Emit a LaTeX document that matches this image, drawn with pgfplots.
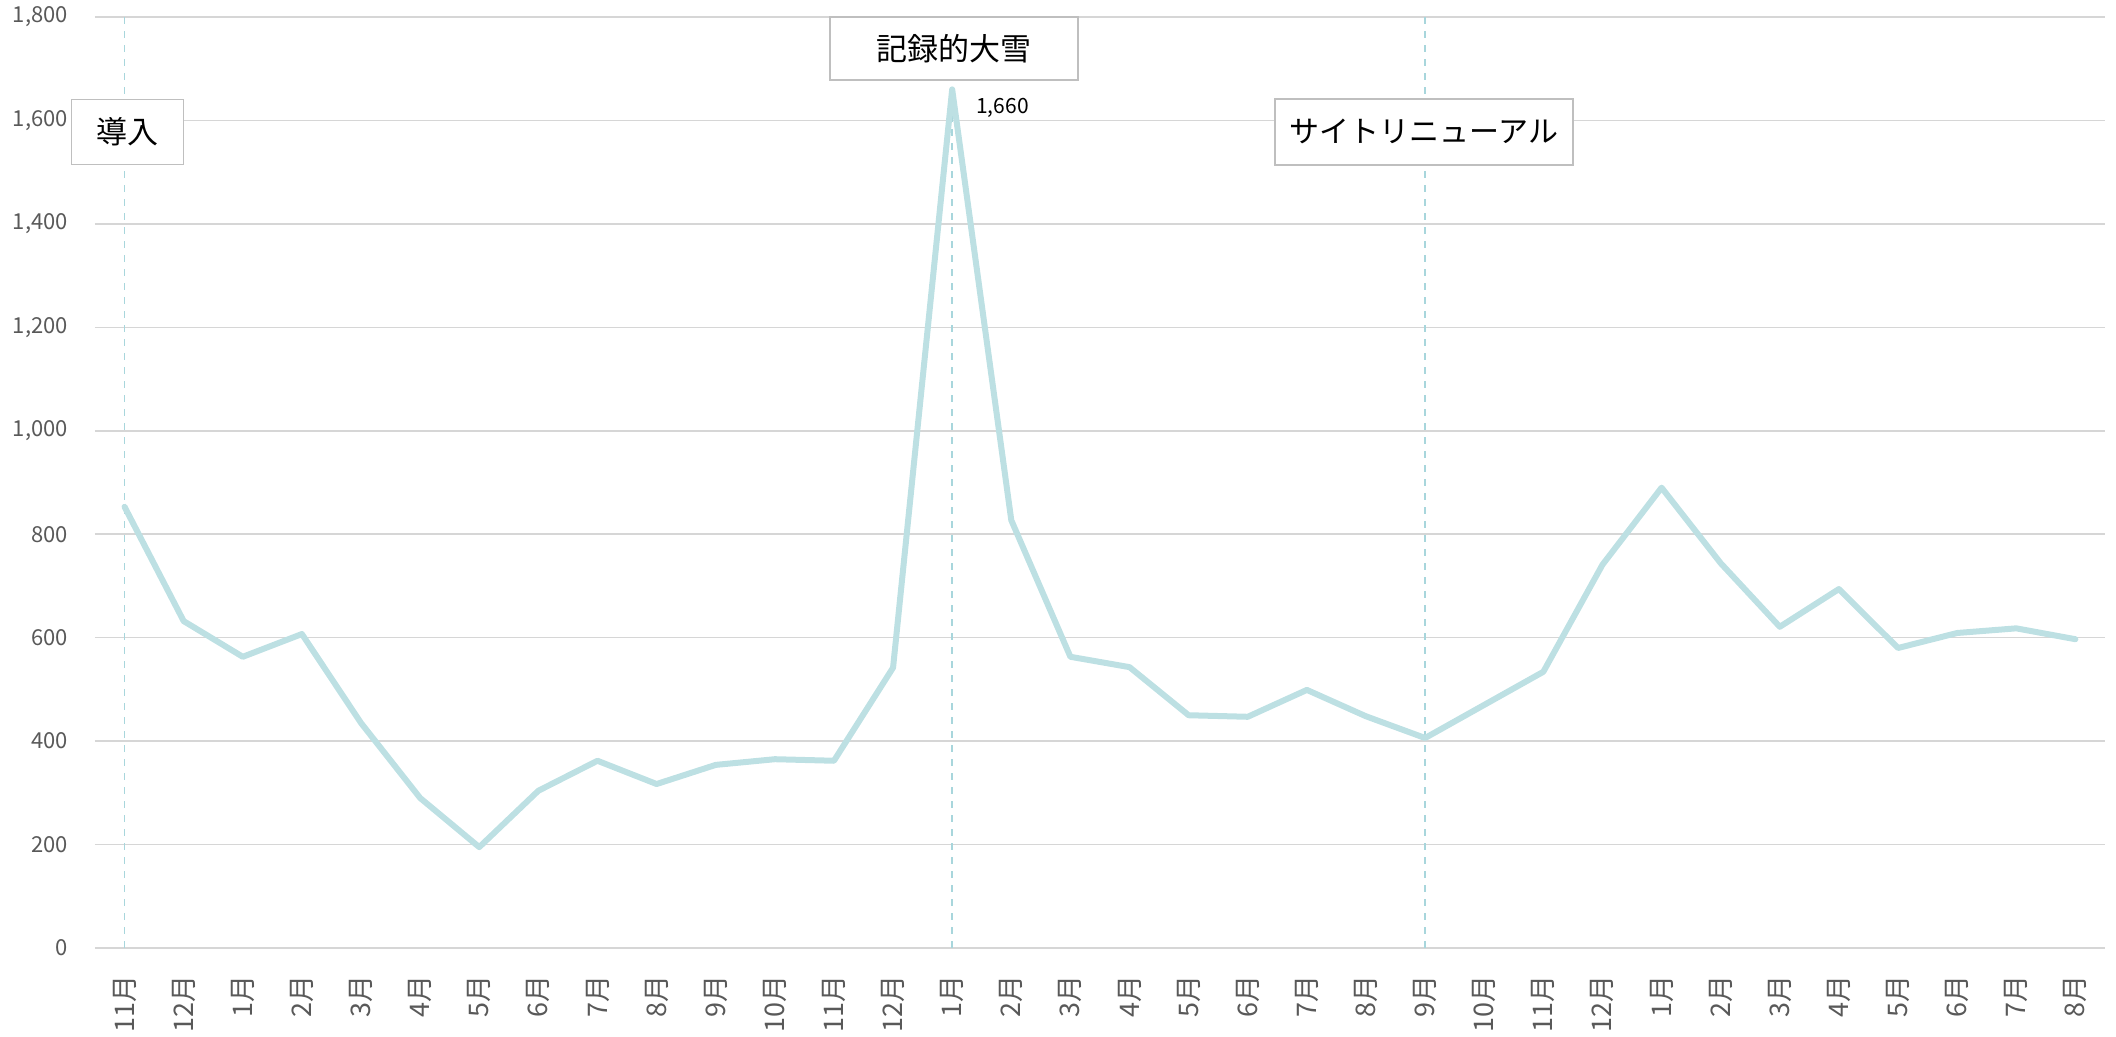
\documentclass[border=0pt]{standalone}
\usepackage{pgfplots}
\pgfplotsset{compat=1.18}
\usepackage{fontspec}
\setmainfont{Noto Sans CJK JP}
\definecolor{linec}{RGB}{189,224,227}
\definecolor{dashc}{RGB}{168,214,220}
\definecolor{gridc}{RGB}{214,214,214}
\definecolor{tickc}{RGB}{89,89,89}
\definecolor{boxc}{RGB}{191,191,191}
\begin{document}
\begin{tikzpicture}
\useasboundingbox (-47.5pt,-44.5pt) rectangle (1010.5pt,474pt);
\begin{axis}[
  at={(0,0)}, anchor=south west,
  scale only axis, width=1005pt, height=465.5pt,
  xmin=-0.5, xmax=33.5, ymin=0, ymax=1800,
  xtick={0,...,33},
  xticklabels={11月,12月,1月,2月,3月,4月,5月,6月,7月,8月,9月,10月,11月,12月,1月,2月,3月,4月,5月,6月,7月,8月,9月,10月,11月,12月,1月,2月,3月,4月,5月,6月,7月,8月},
  ytick={0,200,...,1800},
  axis x line*=bottom, axis y line*=left,
  y axis line style={draw=none},
  x axis line style={draw=gridc, line width=1.2pt, -},
  major tick length=0pt,
  ymajorgrids, grid style={gridc, line width=0.8pt},
  yticklabel style={font=\fontsize{11}{13}\selectfont, text=tickc},
  xticklabel style={font=\fontsize{13.5}{15}\selectfont, text=tickc, rotate=90, anchor=east},
  xticklabel shift=10pt,
  yticklabel shift=10pt,
  /pgf/number format/1000 sep={,},
  /pgf/number format/assume math mode=true,
  clip=false,
]
\addplot[dashc, line width=0.7pt, dash pattern=on 3.5pt off 3.5pt] coordinates {(0,0) (0,1800)};
\addplot[dashc, line width=0.7pt, dash pattern=on 3.5pt off 3.5pt] coordinates {(14,0) (14,1800)};
\addplot[dashc, line width=0.7pt, dash pattern=on 3.5pt off 3.5pt] coordinates {(22,0) (22,1800)};
\addplot[linec, line width=3pt, line join=round, line cap=round] coordinates {
(0,853) (1,632) (2,563) (3,607) (4,435) (5,290) (6,195) (7,304) (8,362) (9,317)
(10,354) (11,365) (12,362) (13,542) (14,1660) (15,827) (16,563) (17,543) (18,450) (19,447)
(20,499) (21,448) (22,406) (23,470) (24,534) (25,741) (26,890) (27,744) (28,621) (29,694)
(30,580) (31,609) (32,618) (33,597)};
\node[anchor=base west, inner sep=0pt, font=\fontsize{10.5}{12}\selectfont] at (axis cs:14.4,1614) {1,660};
\node[draw=boxc, line width=0.8pt, fill=white, minimum width=56pt, minimum height=32.5pt, inner sep=0pt, font=\fontsize{15.5}{18}\selectfont] at (axis cs:0.05,1578) {導入};
\node[draw=boxc, line width=0.8pt, fill=white, minimum width=124pt, minimum height=31.5pt, inner sep=0pt, font=\fontsize{15.5}{18}\selectfont] at (axis cs:14.03,1739) {記録的大雪};
\node[draw=boxc, line width=0.8pt, fill=white, minimum width=149pt, minimum height=33pt, inner sep=0pt, font=\fontsize{15}{18}\selectfont] at (axis cs:21.98,1578) {サイトリニューアル};
\end{axis}
\end{tikzpicture}
\end{document}
